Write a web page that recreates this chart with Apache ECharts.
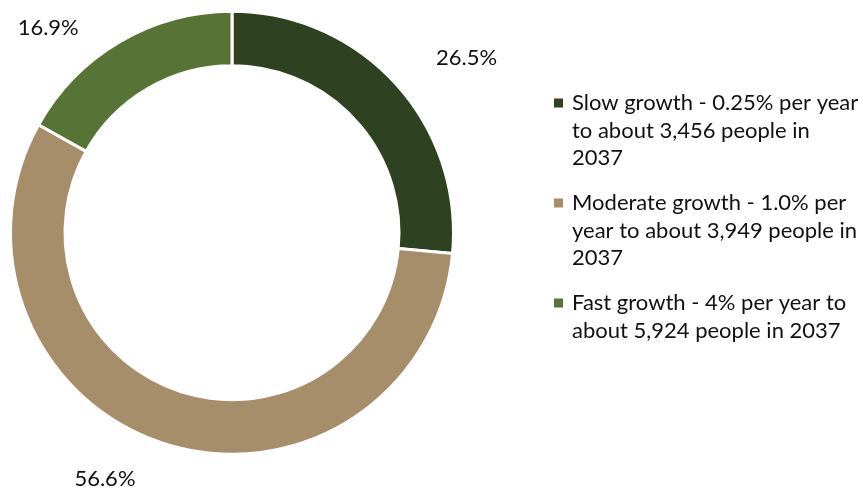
<!DOCTYPE html>
<html>
<head>
<meta charset="utf-8">
<script src="https://cdn.jsdelivr.net/npm/echarts@6/dist/echarts.min.js"></script>
<style>html,body{margin:0;padding:0;background:#fff;}#chart{width:863px;height:489px;}</style>
</head>
<body>
<div id="chart"></div>
<script>
const categories = [
  'Slow growth - 0.25% per year to about 3,456 people in 2037',
  'Moderate growth - 1.0% per year to about 3,949 people in 2037',
  'Fast growth - 4% per year to about 5,924 people in 2037'
];
const legendLines = [
  ['Slow growth - 0.25% per year', 'to about 3,456 people in', '2037'],
  ['Moderate growth - 1.0% per', 'year to about 3,949 people in', '2037'],
  ['Fast growth - 4% per year to', 'about 5,924 people in 2037']
];
const values = [26.5, 56.6, 16.9];
const colors = ['#2e4120', '#a68e6a', '#577436'];
const labelLineLen = [38, 36, 16];
const labelLineLen2 = [7, 15, 28];

const FONT = 'Lato';
const FS = 22;

const rich = {
  t: { fontFamily: FONT, fontSize: FS, lineHeight: 27.5, color: '#111' },
  pad: { width: 18, height: 27.5 }
};
colors.forEach((c, i) => {
  rich['s' + i] = { width: 9, height: 9, backgroundColor: c, verticalAlign: 'middle' };
  rich['g' + i] = { width: 9 };
});

const chart = echarts.init(document.getElementById('chart'), null, { renderer: 'canvas' });
chart.setOption({
  animation: false,
  backgroundColor: '#fff',
  legend: {
    orient: 'vertical',
    left: 543,
    top: 87,
    itemWidth: 0,
    itemHeight: 0,
    itemGap: 23,
    selectedMode: false,
    data: categories,
    formatter: function (name) {
      const i = categories.indexOf(name);
      return legendLines[i].map((ln, j) => (j === 0 ? '{s' + i + '|}{g' + i + '|}' : '{pad|}') + '{t|' + ln + '}').join('\n');
    },
    textStyle: { rich: rich, fontFamily: FONT, fontSize: FS }
  },
  series: [{
    type: 'pie',
    center: [232, 232.7],
    radius: [167, 221.5],
    startAngle: 90,
    clockwise: true,
    avoidLabelOverlap: false,
    silent: true,
    itemStyle: { borderColor: '#fff', borderWidth: 3 },
    label: {
      show: true,
      position: 'outside',
      formatter: function (p) { return p.value.toFixed(1) + '%'; },
      fontFamily: FONT,
      fontSize: FS,
      color: '#111'
    },
    labelLine: { show: false },
    data: categories.map((n, i) => ({
      name: n,
      value: values[i],
      itemStyle: { color: colors[i] },
      labelLine: { show: false, length: labelLineLen[i], length2: labelLineLen2[i] }
    }))
  }]
});
</script>
</body>
</html>
